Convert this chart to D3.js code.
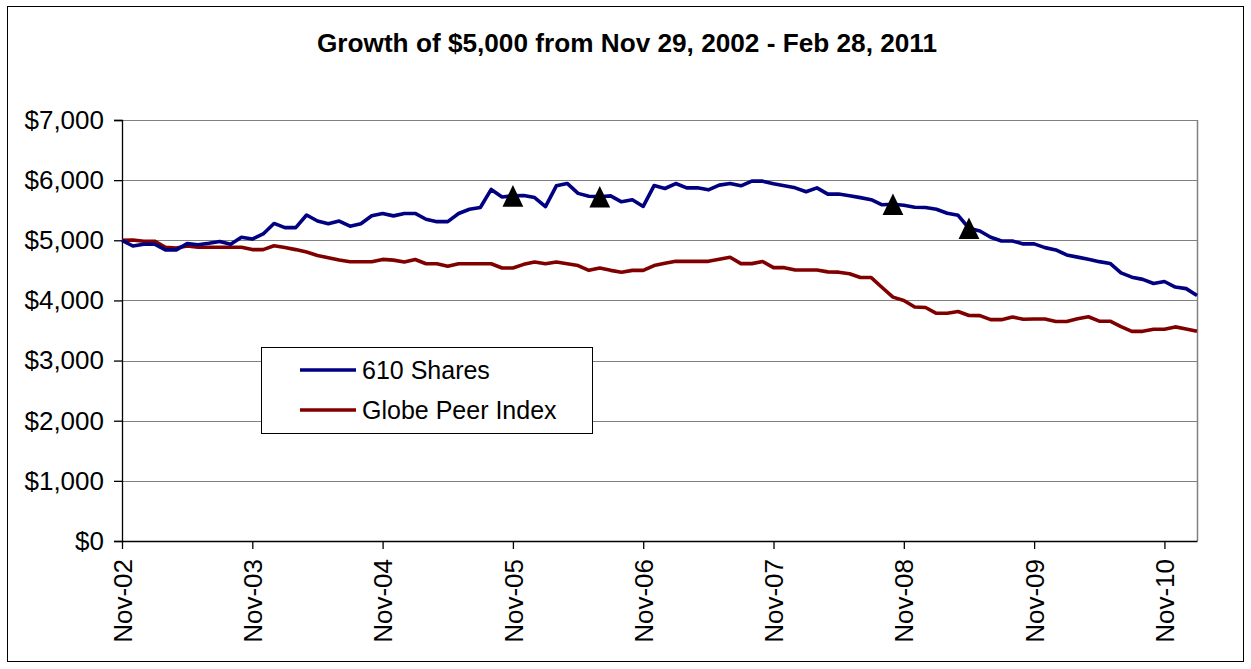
<!DOCTYPE html>
<html>
<head>
<meta charset="utf-8">
<script src="https://cdn.jsdelivr.net/npm/d3@7"></script>
<style>
  body { margin: 0; background: #fff; }
  svg text { font-family: "Liberation Sans", Arial, sans-serif; fill: #000; }
</style>
</head>
<body>
<div id="chartArea"></div>
<script>
const w = 1251;
const h = 669;

// monthly closes, Nov-02 .. Feb-11
const shares610 = [
  5000, 4905, 4935, 4935, 4840, 4840, 4945, 4925, 4950, 4980,
  4935, 5050, 5020, 5105, 5280, 5210, 5210, 5420, 5320, 5275,
  5320, 5235, 5275, 5408, 5446, 5406, 5446, 5446, 5350, 5310,
  5310, 5446, 5516, 5545, 5846, 5720, 5739, 5745, 5710, 5560,
  5905, 5945, 5780, 5732, 5725, 5738, 5640, 5675, 5563, 5910,
  5861, 5944, 5872, 5872, 5839, 5917, 5944, 5906, 5983, 5983,
  5939, 5906, 5872, 5806, 5872, 5767, 5770, 5742, 5709, 5675,
  5590, 5598, 5583, 5549, 5544, 5515, 5450, 5415, 5200, 5155,
  5050, 4988, 4988, 4940, 4940, 4878, 4840, 4756, 4720, 4686,
  4645, 4615, 4458, 4387, 4350, 4282, 4315, 4222, 4196, 4082
];

const globePeer = [
  5000, 5005, 4985, 4985, 4883, 4870, 4905, 4883, 4883, 4883,
  4883, 4883, 4845, 4845, 4910, 4880, 4845, 4805, 4748, 4711,
  4672, 4643, 4643, 4643, 4682, 4670, 4640, 4680, 4610, 4610,
  4570, 4610, 4610, 4610, 4610, 4540, 4540, 4600, 4640, 4610,
  4640, 4610, 4580, 4500, 4540, 4500, 4470, 4500, 4500, 4580,
  4617, 4650, 4650, 4650, 4650, 4685, 4717, 4612, 4612, 4647,
  4545, 4545, 4505, 4505, 4505, 4475, 4470, 4443, 4382, 4380,
  4215, 4055, 4000, 3890, 3883, 3786, 3786, 3816, 3750, 3747,
  3680, 3680, 3725, 3686, 3690, 3690, 3650, 3650, 3696, 3728,
  3655, 3655, 3564, 3486, 3486, 3522, 3522, 3560, 3525, 3486
];

// months carrying a triangle marker on the 610 Shares line
const markerMonths = [36, 44, 71, 78];

const tickMonths = [0, 12, 24, 36, 48, 60, 72, 84, 96];
const tickLabels = ["Nov-02", "Nov-03", "Nov-04", "Nov-05", "Nov-06",
                    "Nov-07", "Nov-08", "Nov-09", "Nov-10"];
const yTicks = [0, 1000, 2000, 3000, 4000, 5000, 6000, 7000];

const series = [
  { name: "610 Shares", values: shares610, color: "#000080" },
  { name: "Globe Peer Index", values: globePeer, color: "#800000" }
];

const plot = { left: 122, right: 1197, top: 120, bottom: 541 };

var svg = d3.select("#chartArea")
    .append("svg")
    .attr("width", w)
    .attr("height", h)

// outer chart frame
svg.append("rect")
    .attr("x", 7.5).attr("y", 6.5)
    .attr("width", 1236).attr("height", 655)
    .attr("fill", "#fff")
    .attr("stroke", "#000")
    .attr("stroke-width", 1)

svg.append("text")
    .attr("x", 627)
    .attr("y", 52)
    .attr("text-anchor", "middle")
    .attr("font-size", 26.2)
    .attr("font-weight", "bold")
    .text("Growth of $5,000 from Nov 29, 2002 - Feb 28, 2011")

var x = d3.scaleLinear()
    .domain([0, shares610.length - 1])
    .range([plot.left, plot.right])

var y = d3.scaleLinear()
    .domain([0, 7000])
    .range([plot.bottom, plot.top])

// gridlines
svg.append("g")
    .selectAll("line")
    .data(yTicks.filter(d => d > 0))
    .enter()
    .append("line")
    .attr("x1", plot.left)
    .attr("x2", plot.right)
    .attr("y1", d => Math.round(y(d)) + 0.5)
    .attr("y2", d => Math.round(y(d)) + 0.5)
    .attr("stroke", "#808080")
    .attr("stroke-width", 1.2)

// right border of plot area
svg.append("line")
    .attr("x1", plot.right + 0.5).attr("x2", plot.right + 0.5)
    .attr("y1", plot.top).attr("y2", plot.bottom)
    .attr("stroke", "#808080")
    .attr("stroke-width", 1.5)

var yAxis = svg.append("g")
    .attr("transform", "translate(" + plot.left + ",0)")
    .call(d3.axisLeft(y)
        .tickValues(yTicks)
        .tickSize(8)
        .tickPadding(10)
        .tickFormat(d3.format("$,.0f")))

yAxis.selectAll("text")
    .attr("font-size", 26)

var xAxis = svg.append("g")
    .attr("transform", "translate(0," + plot.bottom + ")")
    .call(d3.axisBottom(x)
        .tickValues(tickMonths)
        .tickSize(8)
        .tickSizeOuter(0)
        .tickFormat((d, i) => tickLabels[i]))

xAxis.selectAll("text")
    .attr("font-size", 26)
    .attr("text-anchor", "end")
    .attr("transform", "rotate(-90)")
    .attr("x", -18)
    .attr("y", 0)
    .attr("dy", "0.35em")

svg.selectAll(".domain, .tick line")
    .attr("stroke", "#000")
    .attr("stroke-width", 1.3)

var line = d3.line()
    .x((d, i) => x(i))
    .y(d => y(d))

svg.append("g")
    .selectAll("path")
    .data(series.slice().reverse())
    .enter()
    .append("path")
    .attr("d", d => line(d.values))
    .attr("fill", "none")
    .attr("stroke", d => d.color)
    .attr("stroke-width", 3.6)
    .attr("stroke-linejoin", "round")

// triangle markers
svg.append("g")
    .selectAll("path")
    .data(markerMonths)
    .enter()
    .append("path")
    .attr("transform", d => "translate(" + x(d) + "," + y(shares610[d]) + ")")
    .attr("d", "M0,-10.8L10.4,10.8L-10.4,10.8Z")
    .attr("fill", "#000")

// legend
var legend = svg.append("g")

legend.append("rect")
    .attr("x", 261.5).attr("y", 347.5)
    .attr("width", 331).attr("height", 86)
    .attr("fill", "#fff")
    .attr("stroke", "#000")
    .attr("stroke-width", 1)

var item = legend.selectAll(".item")
    .data(series)
    .enter()
    .append("g")
    .attr("class", "item")
    .attr("transform", (d, i) => "translate(0," + (370 + i * 40) + ")")

item.append("line")
    .attr("x1", 300).attr("x2", 356)
    .attr("stroke", d => d.color)
    .attr("stroke-width", 3.6)

item.append("text")
    .attr("x", 362)
    .attr("dy", "0.35em")
    .attr("font-size", 25)
    .text(d => d.name)
</script>
</body>
</html>
